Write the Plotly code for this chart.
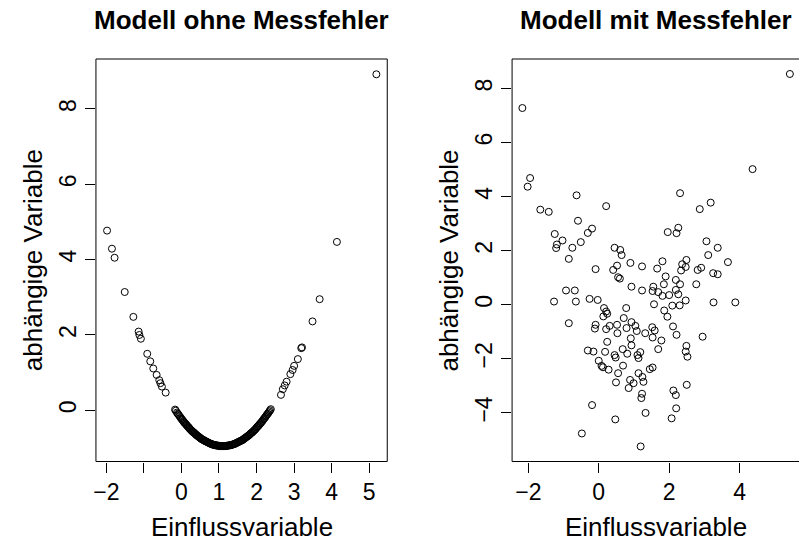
import plotly.graph_objects as go

W, H = 799, 544

# Modell ohne Messfehler: Einflussvariable (x) und abhängige Variable (y)
x_ohne = [-1.98, -1.85, -1.78, -1.51, -1.28, -1.14, -1.12, -1.08, -0.91, -0.83,
          -0.75, -0.66, -0.59, -0.56, -0.52, -0.42,
          -0.17, -0.12, -0.08, -0.03, 0.01, 0.05, 0.08, 0.12, 0.15, 0.19,
          0.22, 0.26, 0.30, 0.33, 0.37, 0.40, 0.44, 0.48, 0.51, 0.55,
          0.59, 0.62, 0.66, 0.70, 0.74, 0.78, 0.82, 0.86, 0.90, 0.94,
          0.98, 1.02, 1.06, 1.10, 1.14, 1.18, 1.22, 1.26, 1.30, 1.34,
          1.38, 1.42, 1.46, 1.50, 1.54, 1.58, 1.62, 1.66, 1.70, 1.74,
          1.78, 1.82, 1.86, 1.90, 1.94, 1.98, 2.02, 2.06, 2.10, 2.14,
          2.18, 2.22, 2.26, 2.30, 2.34, 2.38,
          -0.15, -0.10, -0.055, -0.01, 0.03, 0.065, 0.10, 0.135, 0.17, 0.205,
          0.24, 0.28, 0.315, 0.35, 0.385, 0.42, 0.46, 0.495, 0.53, 0.57,
          0.605, 0.64, 0.68, 0.72, 0.76, 0.80, 0.84, 0.88, 0.92, 0.96,
          1.00, 1.04, 1.08, 1.12, 1.16, 1.20, 1.24, 1.28, 1.32, 1.36,
          1.40, 1.44, 1.48, 1.52, 1.56, 1.60, 1.64, 1.68, 1.72, 1.76,
          1.80, 1.84, 1.88, 1.92, 1.96, 2.00, 2.04, 2.08, 2.12, 2.16,
          2.20, 2.24, 2.28, 2.32, 2.36,
          2.65, 2.70, 2.75, 2.80, 2.90, 2.96, 3.00, 3.10, 3.19, 3.21,
          3.49, 3.68, 4.14, 5.19]
y_ohne = [4.77, 4.29, 4.05, 3.14, 2.48, 2.09, 2.00, 1.90, 1.50, 1.30,
          1.11, 0.94, 0.80, 0.72, 0.63, 0.47,
          0.02, -0.06, -0.11, -0.18, -0.24, -0.29, -0.33, -0.37, -0.41, -0.45,
          -0.49, -0.53, -0.57, -0.59, -0.63, -0.66, -0.69, -0.72, -0.74, -0.77,
          -0.79, -0.81, -0.83, -0.85, -0.87, -0.89, -0.90, -0.92, -0.93, -0.93,
          -0.94, -0.95, -0.95, -0.95, -0.95, -0.95, -0.94, -0.93, -0.93, -0.92,
          -0.90, -0.89, -0.87, -0.85, -0.83, -0.81, -0.79, -0.76, -0.73, -0.70,
          -0.67, -0.64, -0.60, -0.57, -0.53, -0.49, -0.44, -0.40, -0.35, -0.30,
          -0.25, -0.20, -0.14, -0.09, -0.03, 0.03,
          -0.01, -0.09, -0.15, -0.21, -0.26, -0.31, -0.35, -0.39, -0.43, -0.47,
          -0.51, -0.55, -0.58, -0.61, -0.64, -0.67, -0.70, -0.73, -0.76, -0.78,
          -0.80, -0.82, -0.84, -0.86, -0.88, -0.90, -0.91, -0.92, -0.93, -0.94,
          -0.94, -0.95, -0.95, -0.95, -0.95, -0.94, -0.94, -0.93, -0.92, -0.91,
          -0.90, -0.88, -0.86, -0.84, -0.82, -0.80, -0.78, -0.75, -0.72, -0.69,
          -0.66, -0.62, -0.59, -0.55, -0.51, -0.46, -0.42, -0.37, -0.33, -0.28,
          -0.22, -0.17, -0.11, -0.06, 0.00,
          0.41, 0.56, 0.66, 0.76, 0.96, 1.07, 1.18, 1.36, 1.65, 1.67,
          2.36, 2.95, 4.47, 8.92]

# Modell mit Messfehler
x_mit = [-2.17, 5.43, -1.95, -2.02, 4.37, -0.63, 2.31, -1.66, -1.42, 0.21,
         3.18, 2.87, -0.59, -0.19, -0.31, -1.25, 1.96, 2.26, 2.21, -1.03,
         -1.19, -1.21, -0.51, -0.75, -0.85, 0.45, 0.61, 0.65, 3.06, 3.38,
         3.11, 3.67, 1.81, 0.90, 1.23, -0.09, 0.41, 0.52, 0.55, 0.60,
         1.66, 2.37, 2.49, 2.47, 2.34, 2.81, 2.91, 3.25, 3.38, 1.90,
         1.85, 2.19, 2.31, 2.77, 0.93, 1.23, 1.55, 1.53, 1.69, 1.81,
         2.00, 2.19, 2.26, 2.47, 2.30, 2.09, 1.57, -0.93, -0.68, -1.27,
         -0.65, -0.26, -0.03, 3.26, 3.88, -0.85, 0.15, 0.21, 0.24, 0.13,
         0.78, 0.71, 0.93, 0.79, 1.04, 1.08, -0.09, -0.11, 0.21, 0.31,
         0.52, 0.53, 1.32, 1.52, 1.59, 1.53, 1.78, 1.86, 1.95, 2.11,
         2.21, 2.95, 0.91, 0.93, 0.68, 0.24, 0.18, -0.31, -0.15, 0.81,
         0.45, 0.48, 1.10, 1.13, 1.18, 1.69, 2.49, 2.47, 2.52, 0.00,
         0.08, 0.12, 0.28, 0.69, 0.55, 1.13, 1.24, 1.27, 0.89, 0.99,
         0.85, 0.49, 1.45, 1.53, 2.50, 1.23, 1.21, 2.12, 2.19, 2.20,
         2.07, 1.33, 0.47, -0.19, -0.48, 1.19]
y_mit = [7.28, 8.54, 4.69, 4.37, 5.02, 4.05, 4.13, 3.52, 3.44, 3.65,
         3.78, 3.54, 3.11, 2.82, 2.66, 2.62, 2.69, 2.85, 2.65, 2.38,
         2.23, 2.10, 2.32, 2.11, 1.70, 2.11, 2.03, 1.84, 2.35, 2.11,
         1.84, 1.58, 1.61, 1.55, 1.42, 1.32, 1.29, 1.45, 1.02, 0.97,
         1.34, 1.50, 1.66, 1.40, 1.27, 1.29, 1.37, 1.17, 1.13, 1.05,
         0.76, 0.92, 0.76, 0.76, 0.67, 0.53, 0.67, 0.51, 0.47, 0.33,
         0.36, 0.55, 0.39, 0.16, -0.02, -0.03, 0.02, 0.53, 0.53, 0.12,
         0.12, 0.22, 0.18, 0.09, 0.09, -0.68, -0.12, -0.25, -0.33, -0.43,
         -0.12, -0.49, -0.64, -0.86, -0.78, -0.97, -0.74, -0.88, -0.90, -0.78,
         -0.74, -1.05, -1.05, -0.83, -0.95, -1.21, -1.32, -0.21, -0.44, -0.80,
         -1.11, -1.18, -1.24, -1.50, -1.64, -1.37, -1.74, -1.69, -1.73, -1.81,
         -1.86, -1.95, -1.86, -1.97, -1.75, -1.64, -1.52, -1.73, -1.92, -2.07,
         -2.26, -2.31, -2.40, -2.25, -2.53, -2.53, -2.67, -2.85, -2.78, -2.90,
         -3.08, -2.87, -2.38, -2.32, -2.96, -3.29, -3.45, -3.17, -3.34, -3.83,
         -4.20, -4.00, -4.24, -3.71, -4.76, -5.24]

# Achsenbeschriftungen
left_xticks = [-2, -1, 0, 1, 2, 3, 4, 5]
left_xtext = ["\u22122", "", "0", "1", "2", "3", "4", "5"]
left_yticks = [0, 2, 4, 6, 8]
right_xticks = [-2, 0, 2, 4]
right_xtext = ["\u22122", "0", "2", "4"]
right_yticks = [-4, -2, 0, 2, 4, 6, 8]
right_ytext = ["\u22124", "\u22122", "0", "2", "4", "6", "8"]

titles = ["Modell ohne Messfehler", "Modell mit Messfehler"]
xlab = "Einflussvariable"
ylab = "abhängige Variable"

FONT = "Liberation Sans, Arial, Helvetica, sans-serif"


def px(v):
    return v / W


def py(v):
    return 1 - v / H


# plot regions in pixels
L = dict(x0=93.3, x1=385.7)
R = dict(x0=511.0, x1=800.5)
TOP, BOT = 59.0, 461.5

marker = dict(symbol="circle-open", size=7, color="black",
              line=dict(width=1, color="black"))

fig = go.Figure()
fig.add_trace(go.Scatter(x=x_ohne, y=y_ohne, mode="markers", marker=marker,
                         xaxis="x", yaxis="y", showlegend=False))
fig.add_trace(go.Scatter(x=x_mit, y=y_mit, mode="markers", marker=marker,
                         xaxis="x2", yaxis="y2", showlegend=False))

axis_common = dict(showgrid=False, zeroline=False, showline=False,
                   ticks="outside", ticklen=10, tickwidth=1, tickcolor="black",
                   tickfont=dict(family=FONT, size=23, color="black"),
                   tickmode="array")

fig.update_layout(
    width=W, height=H,
    margin=dict(l=0, r=0, t=0, b=0),
    paper_bgcolor="white", plot_bgcolor="white",
    xaxis=dict(axis_common, domain=[px(L["x0"]), px(L["x1"])],
               range=[-2.276, 5.480], tickvals=left_xticks, ticktext=left_xtext,
               anchor="y"),
    yaxis=dict(axis_common, domain=[py(BOT), py(TOP)],
               range=[-1.359, 9.326], tickvals=left_yticks,
               ticktext=[str(v) for v in left_yticks], tickangle=-90,
               anchor="x"),
    xaxis2=dict(axis_common, domain=[px(R["x0"]), 1.0],
                range=[-2.462, 5.689], tickvals=right_xticks,
                ticktext=right_xtext, anchor="y2"),
    yaxis2=dict(axis_common, domain=[py(BOT), py(TOP)],
                range=[-5.797, 9.094], tickvals=right_yticks,
                ticktext=right_ytext, tickangle=-90, anchor="x2"),
)

# box around each plot region
for reg in (L, R):
    fig.add_shape(type="rect", xref="paper", yref="paper",
                  x0=px(reg["x0"]), x1=px(reg["x1"]), y0=py(BOT), y1=py(TOP),
                  line=dict(color="black", width=1), fillcolor="rgba(0,0,0,0)",
                  layer="above")

ann = []
for reg, title, ylab_x in ((L, titles[0], 30), (R, titles[1], 448)):
    cx = (reg["x0"] + reg["x1"]) / 2
    ann.append(dict(text="<b>%s</b>" % title, x=px(cx), y=py(20),
                    xref="paper", yref="paper", showarrow=False,
                    xanchor="center", yanchor="middle",
                    font=dict(family=FONT, size=26, color="black")))
    ann.append(dict(text=xlab, x=px(cx), y=py(527), xref="paper", yref="paper",
                    showarrow=False, xanchor="center", yanchor="middle",
                    font=dict(family=FONT, size=26, color="black")))
    ann.append(dict(text=ylab, x=px(ylab_x), y=py((TOP + BOT) / 2),
                    xref="paper", yref="paper", showarrow=False, textangle=-90,
                    xanchor="center", yanchor="middle",
                    font=dict(family=FONT, size=26, color="black")))
fig.update_layout(annotations=ann)

fig.write_html("out.html")
